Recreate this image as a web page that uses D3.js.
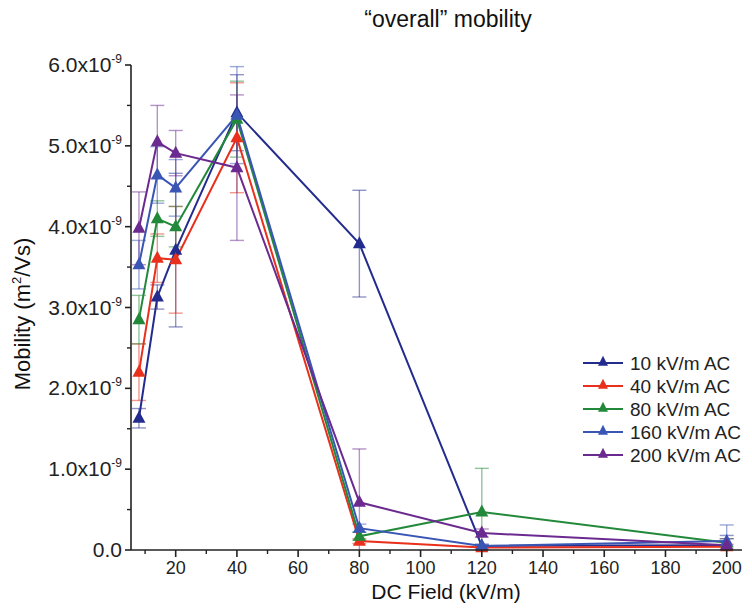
<!DOCTYPE html>
<html>
<head>
<meta charset="utf-8">
<script src="https://cdn.jsdelivr.net/npm/d3@7"></script>
<style>
  body { margin: 0; background: #fff; }
  svg { display: block; font-family: "Liberation Sans", Arial, sans-serif; }
</style>
</head>
<body>
<svg id="chart" width="752" height="614"></svg>
<script>
// DC field strengths (kV/m) where mobility was measured
const dcField = [8, 14, 20, 40, 80, 120, 200];

// Series: AC field strength
const seriesNames  = ["10 kV/m AC", "40 kV/m AC", "80 kV/m AC", "160 kV/m AC", "200 kV/m AC"];
const seriesColors = ["#232c8e", "#e8301c", "#23893a", "#3a56b4", "#6b2a8f"];

// Mobility (m^2/Vs) and its standard deviation
const mob10  = [1.63e-9, 3.13e-9, 3.71e-9, 5.41e-9, 3.79e-9, 0.05e-9, 0.06e-9];
const err10  = [0.12e-9, 0.15e-9, 0.95e-9, 0.47e-9, 0.66e-9, 0.02e-9, 0.12e-9];
const mob40  = [2.20e-9, 3.61e-9, 3.59e-9, 5.10e-9, 0.11e-9, 0.03e-9, 0.04e-9];
const err40  = [0.35e-9, 0.30e-9, 0.66e-9, 0.68e-9, 0.03e-9, 0.02e-9, 0.03e-9];
const mob80  = [2.85e-9, 4.10e-9, 4.00e-9, 5.33e-9, 0.17e-9, 0.47e-9, 0.09e-9];
const err80  = [0.30e-9, 0.22e-9, 0.25e-9, 0.47e-9, 0.05e-9, 0.54e-9, 0.05e-9];
const mob160 = [3.53e-9, 4.64e-9, 4.48e-9, 5.38e-9, 0.27e-9, 0.05e-9, 0.11e-9];
const err160 = [0.30e-9, 0.35e-9, 0.35e-9, 0.60e-9, 0.05e-9, 0.02e-9, 0.20e-9];
const mob200 = [3.98e-9, 5.05e-9, 4.91e-9, 4.73e-9, 0.59e-9, 0.21e-9, 0.06e-9];
const err200 = [0.45e-9, 0.45e-9, 0.28e-9, 0.90e-9, 0.66e-9, 0.05e-9, 0.08e-9];

const seriesValues = [mob10, mob40, mob80, mob160, mob200];
const seriesErrors = [err10, err40, err80, err160, err200];

// Axis ticks
const xMajorTicks = [20, 40, 60, 80, 100, 120, 140, 160, 180, 200];
const xMinorTicks = [10, 30, 50, 70, 90, 110, 130, 150, 170, 190];
const yMajorTicks = [0, 1e-9, 2e-9, 3e-9, 4e-9, 5e-9, 6e-9];
const yMinorTicks = [0.5e-9, 1.5e-9, 2.5e-9, 3.5e-9, 4.5e-9, 5.5e-9];

const svg = d3.select("#chart");
const axisColor = "#222";

const x = d3.scaleLinear().domain([5.4, 205]).range([131, 742]);
const y = d3.scaleLinear().domain([0, 6e-9]).range([550, 65]);

// Title
svg.append("text")
  .attr("x", 448).attr("y", 27)
  .attr("text-anchor", "middle")
  .attr("font-size", 23)
  .attr("fill", "#111")
  .text("\u201Coverall\u201D mobility");

// Error bars (drawn beneath lines)
const capHalf = 7;
seriesValues.forEach((vals, si) => {
  const g = svg.append("g")
    .attr("stroke", seriesColors[si])
    .attr("stroke-opacity", 0.5)
    .attr("stroke-width", 1.4)
    .attr("fill", "none");
  vals.forEach((v, i) => {
    const e = seriesErrors[si][i];
    const cx = x(dcField[i]);
    const yt = y(v + e), yb = y(Math.max(0, v - e));
    g.append("line").attr("x1", cx).attr("x2", cx).attr("y1", yt).attr("y2", yb);
    g.append("line").attr("x1", cx - capHalf).attr("x2", cx + capHalf).attr("y1", yt).attr("y2", yt);
    if (v - e > 0) {
      g.append("line").attr("x1", cx - capHalf).attr("x2", cx + capHalf).attr("y1", yb).attr("y2", yb);
    }
  });
});

// Lines
const line = d3.line().x((d, i) => x(dcField[i])).y(d => y(d));
seriesValues.forEach((vals, si) => {
  svg.append("path")
    .datum(vals)
    .attr("d", line)
    .attr("fill", "none")
    .attr("stroke", seriesColors[si])
    .attr("stroke-width", 2);
});

// Triangle markers
const tri = (w, h) => `M0,${-h * 0.62}L${w / 2},${h * 0.38}L${-w / 2},${h * 0.38}Z`;
seriesValues.forEach((vals, si) => {
  svg.append("g").selectAll("path")
    .data(vals)
    .join("path")
    .attr("d", tri(13, 12))
    .attr("transform", (d, i) => `translate(${x(dcField[i])},${y(d)})`)
    .attr("fill", seriesColors[si]);
});

// X axis
const xAxis = svg.append("g").attr("transform", `translate(0,${y(0)})`);
xAxis.append("line")
  .attr("x1", x.range()[0]).attr("x2", x.range()[1])
  .attr("stroke", axisColor).attr("stroke-width", 1.6);
xAxis.selectAll(".maj").data(xMajorTicks).join("line")
  .attr("x1", d => x(d)).attr("x2", d => x(d)).attr("y1", 0).attr("y2", 7)
  .attr("stroke", axisColor).attr("stroke-width", 1.6);
xAxis.selectAll(".min").data(xMinorTicks).join("line")
  .attr("class", "min")
  .attr("x1", d => x(d)).attr("x2", d => x(d)).attr("y1", 0).attr("y2", 4)
  .attr("stroke", axisColor).attr("stroke-width", 1.4);
xAxis.selectAll("text").data(xMajorTicks).join("text")
  .attr("x", d => x(d)).attr("y", 24)
  .attr("text-anchor", "middle")
  .attr("font-size", 18)
  .attr("fill", "#222")
  .text(d => d);

// Y axis
const yAxis = svg.append("g").attr("transform", `translate(${x.range()[0]},0)`);
yAxis.append("line")
  .attr("y1", y.range()[0]).attr("y2", y.range()[1])
  .attr("stroke", axisColor).attr("stroke-width", 1.6);
yAxis.selectAll(".maj").data(yMajorTicks).join("line")
  .attr("y1", d => y(d)).attr("y2", d => y(d)).attr("x1", 0).attr("x2", -6)
  .attr("stroke", axisColor).attr("stroke-width", 1.6);
yAxis.selectAll(".min").data(yMinorTicks).join("line")
  .attr("class", "min")
  .attr("y1", d => y(d)).attr("y2", d => y(d)).attr("x1", 0).attr("x2", -4)
  .attr("stroke", axisColor).attr("stroke-width", 1.4);
const yLabels = yAxis.selectAll("text").data(yMajorTicks).join("text")
  .attr("x", -9).attr("y", d => y(d) + 7)
  .attr("text-anchor", "end")
  .attr("font-size", 21)
  .attr("fill", "#222");
yLabels.each(function (d) {
  const t = d3.select(this);
  if (d === 0) { t.text("0.0"); return; }
  t.append("tspan").text((d / 1e-9).toFixed(1) + "x10");
  t.append("tspan").attr("dy", -9).attr("font-size", 12).text("-9");
});

// Axis titles
svg.append("text")
  .attr("x", 446).attr("y", 599)
  .attr("text-anchor", "middle")
  .attr("font-size", 21)
  .attr("fill", "#111")
  .text("DC Field (kV/m)");

const yTitle = svg.append("text")
  .attr("transform", "translate(30,314) rotate(-90)")
  .attr("text-anchor", "middle")
  .attr("font-size", 22)
  .attr("fill", "#111");
yTitle.append("tspan").text("Mobility (m");
yTitle.append("tspan").attr("dy", -9).attr("font-size", 13).text("2");
yTitle.append("tspan").attr("dy", 9).text("/Vs)");

// Legend
const legend = svg.append("g").attr("transform", "translate(583,363)");
seriesNames.forEach((name, si) => {
  const row = legend.append("g").attr("transform", `translate(0,${si * 23})`);
  row.append("line").attr("x1", 0).attr("x2", 40).attr("y1", 0).attr("y2", 0)
    .attr("stroke", seriesColors[si]).attr("stroke-width", 2);
  row.append("path").attr("d", tri(10, 10)).attr("transform", "translate(20,-1)")
    .attr("fill", seriesColors[si]);
  row.append("text").attr("x", 47).attr("y", 7)
    .attr("font-size", 19).attr("fill", "#222")
    .text(name);
});
</script>
</body>
</html>
